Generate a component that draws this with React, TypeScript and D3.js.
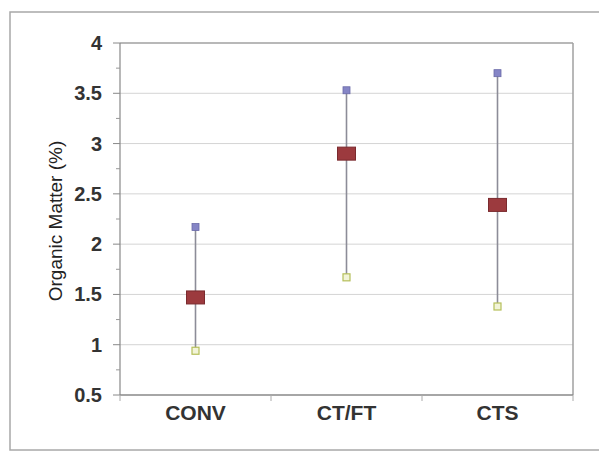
import React from 'react';
import * as d3 from 'd3';

const categories = ['CONV', 'CT/FT', 'CTS'];
const maxValues = [2.17, 3.53, 3.7];
const meanValues = [1.47, 2.9, 2.39];
const minValues = [0.94, 1.67, 1.38];
const yTickValues = [0.5, 1, 1.5, 2, 2.5, 3, 3.5, 4];
const yLabel = 'Organic Matter (%)';

const width = 599;
const height = 454;
const margin = { top: 43, right: 26, bottom: 59, left: 120 };

export default function App() {
  const x = d3
    .scaleBand()
    .domain(categories)
    .range([margin.left, width - margin.right]);
  const y = d3
    .scaleLinear()
    .domain([0.5, 4])
    .range([height - margin.bottom, margin.top]);

  const minorTicks = d3.range(0.75, 4, 0.5);
  const bandEdges = categories.map((c) => x(c)!).concat([x.range()[1]]);
  const font = 'Liberation Sans, Arial, sans-serif';

  return (
    <svg
      width={width}
      height={height}
      style={{ position: 'absolute', left: 0, top: 0, background: '#fff' }}
    >
      {/* outer frame */}
      <rect x={10} y={12} width={600} height={438} fill="none" stroke="#a8a8a8" strokeWidth={1.5} />

      {/* gridlines */}
      {yTickValues.slice(1, -1).map((t) => (
        <line key={'g' + t} x1={margin.left} x2={width - margin.right} y1={y(t)} y2={y(t)} stroke="#d4d4d4" strokeWidth={1} />
      ))}

      {/* plot border top/right */}
      <line x1={margin.left} x2={width - margin.right} y1={y(4)} y2={y(4)} stroke="#a0a0a0" strokeWidth={1.5} />
      <line x1={width - margin.right} x2={width - margin.right} y1={y(4)} y2={y(0.5)} stroke="#a0a0a0" strokeWidth={1.5} />

      {/* y axis */}
      <line x1={margin.left} x2={margin.left} y1={y(4)} y2={y(0.5)} stroke="#888" strokeWidth={1.2} />
      {yTickValues.map((t) => (
        <g key={'t' + t}>
          <line x1={margin.left - 7} x2={margin.left} y1={y(t)} y2={y(t)} stroke="#888" strokeWidth={1} />
          <text
            x={102}
            y={y(t)}
            dy="0.35em"
            textAnchor="end"
            fontFamily={font}
            fontSize={20}
            fontWeight="bold"
            fill="#333"
          >
            {t}
          </text>
        </g>
      ))}
      {minorTicks.map((t) => (
        <line key={'m' + t} x1={margin.left - 4} x2={margin.left} y1={y(t)} y2={y(t)} stroke="#999" strokeWidth={1} />
      ))}

      {/* x axis */}
      <line x1={margin.left} x2={width - margin.right} y1={y(0.5)} y2={y(0.5)} stroke="#888" strokeWidth={1.5} />
      {bandEdges.map((e, i) => (
        <line key={'e' + i} x1={e} x2={e} y1={y(0.5)} y2={y(0.5) + 6} stroke="#aaa" strokeWidth={1} />
      ))}
      {categories.map((c) => (
        <text
          key={c}
          x={x(c)! + x.bandwidth() / 2}
          y={y(0.5) + 25}
          textAnchor="middle"
          fontFamily={font}
          fontSize={21}
          fontWeight="bold"
          fill="#333"
        >
          {c}
        </text>
      ))}

      <text
        transform={`translate(62,${(y(4) + y(0.5)) / 2 + 2}) rotate(-90)`}
        textAnchor="middle"
        fontFamily={font}
        fontSize={19}
        fill="#222"
      >
        {yLabel}
      </text>

      {/* range lines and markers */}
      {categories.map((c, i) => {
        const cx = x(c)! + x.bandwidth() / 2;
        return (
          <g key={'d' + c}>
            <line x1={cx} x2={cx} y1={y(minValues[i])} y2={y(maxValues[i])} stroke="#8c8c98" strokeWidth={1.6} />
            <rect x={cx - 3.5} y={y(maxValues[i]) - 3.5} width={7} height={7} fill="#8585c6" stroke="#6a6aa8" strokeWidth={0.8} />
            <rect x={cx - 3.5} y={y(minValues[i]) - 3.5} width={7} height={7} fill="#f2f4d8" stroke="#b5bf5a" strokeWidth={1.2} />
            <rect x={cx - 9} y={y(meanValues[i]) - 6.5} width={18} height={13} fill="#9c3a3e" stroke="#7a2a2e" strokeWidth={1} />
          </g>
        );
      })}
    </svg>
  );
}
